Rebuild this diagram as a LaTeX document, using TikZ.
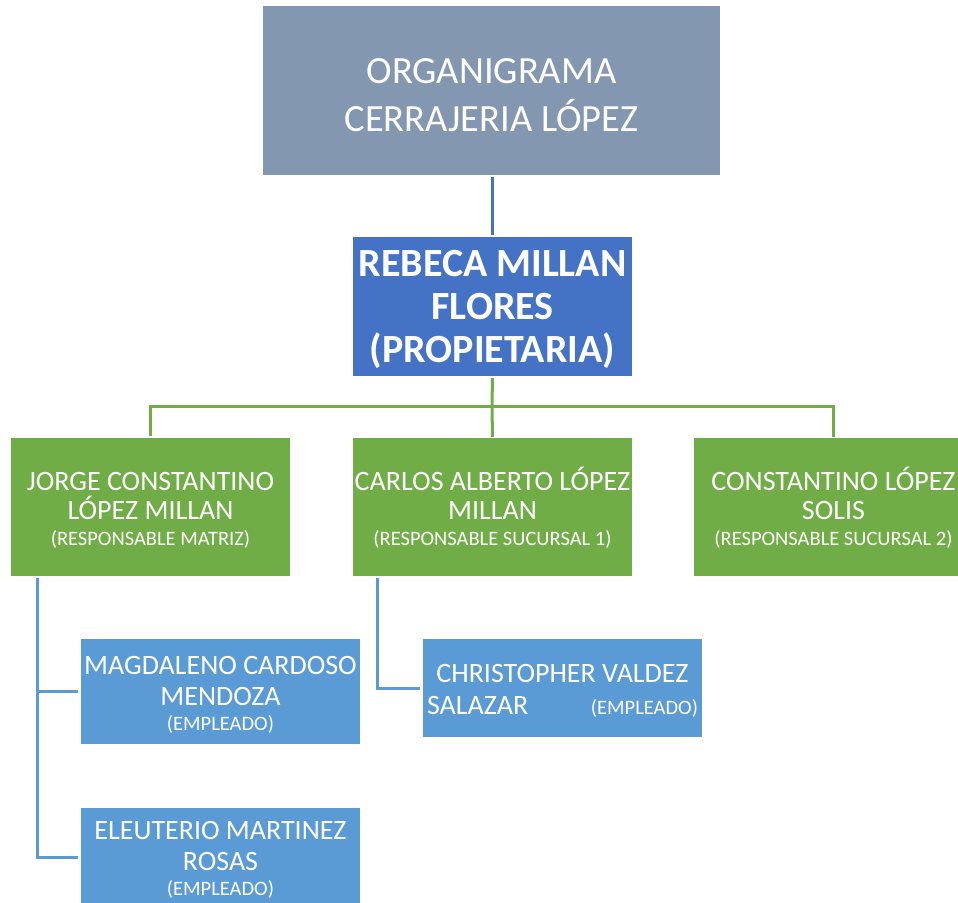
\documentclass[tikz,border=0pt]{standalone}
\usepackage{fontspec}
\setmainfont{Carlito}
\definecolor{titlegray}{HTML}{8497B0}
\definecolor{darkblue}{HTML}{4472C4}
\definecolor{okgreen}{HTML}{70AD47}
\definecolor{lightblue}{HTML}{5B9BD5}
\newcommand{\smalltxt}[1]{{\fontsize{20.5}{24}\selectfont #1}}
\newcommand{\topstrut}[1]{\rule{0pt}{#1}}
\begin{document}
\begin{tikzpicture}[x={(1pt,0)},y={(0,-1pt)},
  box/.style={rectangle,inner sep=0pt,text=white,align=center,minimum width=279pt},
  titlebox/.style={box,fill=titlegray,minimum width=457pt,minimum height=169pt,font=\fontsize{38.5}{48}\selectfont},
  ownerbox/.style={box,fill=darkblue,minimum height=139pt,font=\fontsize{40}{43}\selectfont\bfseries},
  greenbox/.style={box,fill=okgreen,minimum height=138pt,font=\fontsize{28}{29}\selectfont},
  bluebox/.style={box,fill=lightblue,font=\fontsize{28}{31}\selectfont},
  conn/.style={line width=3pt},
]
\useasboundingbox (0,0) rectangle (958,902);
\clip (0,0) rectangle (958,902);
\node[titlebox] (title) at (491.5,90.5) {\topstrut{33.5pt}ORGANIGRAMA\\CERRAJERIA LÓPEZ};
\node[ownerbox] (owner) at (492.5,306.5) {\topstrut{32pt}REBECA MILLAN\\FLORES\\(PROPIETARIA)};
\node[greenbox] (jorge) at (150.5,507) {\topstrut{25pt}JORGE CONSTANTINO\\LÓPEZ MILLAN\\[-3pt]\smalltxt{(RESPONSABLE MATRIZ)}};
\node[greenbox] (carlos) at (492.5,507) {\topstrut{25pt}CARLOS ALBERTO LÓPEZ\\MILLAN\\[-3pt]\smalltxt{(RESPONSABLE SUCURSAL 1)}};
\node[greenbox] (const) at (833.5,507) {\topstrut{25pt}CONSTANTINO LÓPEZ\\SOLIS\\[-3pt]\smalltxt{(RESPONSABLE SUCURSAL 2)}};
\node[bluebox,minimum height=105pt] (mag) at (220.5,691.5) {\topstrut{24pt}MAGDALENO CARDOSO\\MENDOZA\\[-6pt]\smalltxt{(EMPLEADO)}};
\node[bluebox,minimum height=98pt] (eleu) at (220.5,857) {\topstrut{23pt}ELEUTERIO MARTINEZ\\ROSAS\\[-6pt]\smalltxt{(EMPLEADO)}};
\node[bluebox,minimum height=98pt,font=\fontsize{28}{32}\selectfont] (chris) at (562.5,688) {\topstrut{23pt}CHRISTOPHER VALDEZ\\\makebox[271pt]{SALAZAR\hfill\smalltxt{(EMPLEADO)}}};
\coordinate (bus) at (492,406);
\draw[conn,darkblue,shorten <=2pt,shorten >=2pt] (title.south -| owner) -- (owner.north);
\draw[conn,okgreen,shorten <=2pt] (owner.south) -- (bus);
\draw[conn,okgreen,shorten <=2pt] (jorge.north) |- (bus);
\draw[conn,okgreen,shorten >=1pt] (bus) -| (const.north);
\draw[conn,okgreen,shorten >=1pt] (bus) -- (carlos.north);
\coordinate (jtap) at ([xshift=27pt]jorge.south west);
\coordinate (ctap) at ([xshift=25pt]carlos.south west);
\draw[conn,lightblue,shorten <=2pt,shorten >=3pt] (jtap) |- (mag.west);
\draw[conn,lightblue,shorten <=2pt,shorten >=3pt] (jtap) |- (eleu.west);
\draw[conn,lightblue,shorten <=2pt,shorten >=3pt] (ctap) |- (chris.west);
\end{tikzpicture}
\end{document}
